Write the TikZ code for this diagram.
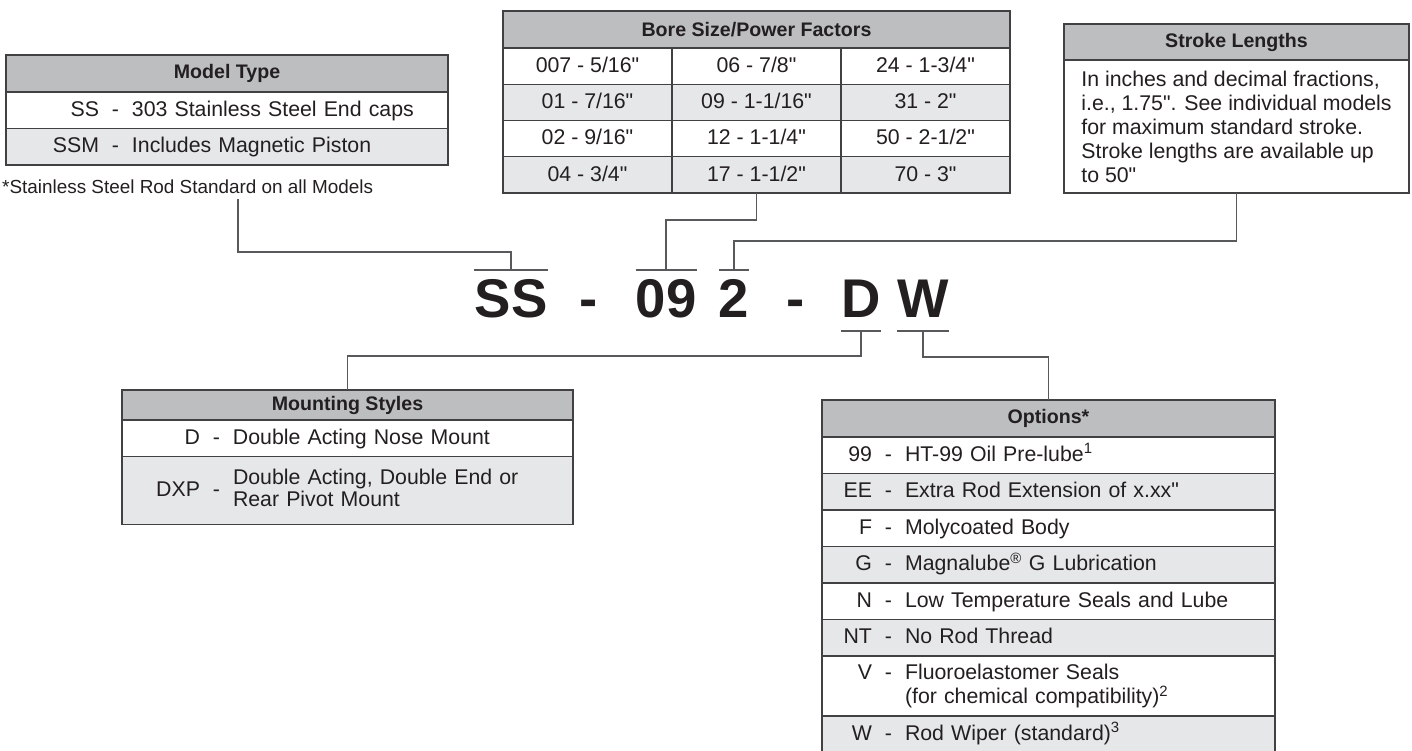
\documentclass[tikz,border=0pt]{standalone}
\usepackage{fontspec}
\setmainfont{Liberation Sans}[Ligatures=TeXOff]
\usetikzlibrary{positioning}
\definecolor{hdrg}{HTML}{BCBEC0}
\definecolor{altg}{HTML}{E6E7E8}
\definecolor{bord}{HTML}{414042}
\definecolor{conc}{HTML}{58595B}
\definecolor{ink}{HTML}{231F20}
\newcommand{\bodyfs}{\fontsize{21.3}{24}\selectfont}
\newcommand{\hdfs}{\fontsize{19.6}{22}\selectfont}
\newcommand{\fnfs}{\fontsize{18.9}{22}\selectfont}
\newcommand{\codefs}{\fontsize{54.5}{60}\selectfont}
\newcommand{\opt}[3]{\makebox[#1][r]{#2}\makebox[33pt]{-}#3}
\renewcommand{\arraystretch}{0.92}
\tikzset{
  tb/.style={draw=bord,line width=1.3pt,inner sep=0pt,outer sep=0pt,text=ink},
  hdr/.style={tb,fill=hdrg,font=\hdfs\bfseries,minimum height=37pt,align=center},
  rw/.style={tb,fill=white,font=\bodyfs,minimum height=36.5pt,align=left,text height=15.3pt,text depth=3pt},
  rwg/.style={rw,fill=altg},
  cell/.style={tb,fill=white,font=\bodyfs,minimum width=169pt,minimum height=36.25pt,text height=15.3pt,text depth=3pt},
  cellg/.style={cell,fill=altg},
  code/.style={inner sep=0pt,anchor=base,font=\codefs\bfseries,text=ink,text height=47pt,text depth=14pt},
  bar/.style={draw=conc,line width=1.8pt},
  conn/.style={draw=conc,line width=1.6pt},
}

\begin{document}
\begin{tikzpicture}[x=1pt,y=-1pt,node distance=0pt]
\useasboundingbox (0,0) rectangle (1412,751);
% model type
\node[hdr,minimum width=442pt] (mt) at (227,73.5) {Model Type};
\node[rw,text width=442pt,below=of mt] (mt1) {\opt{93pt}{SS}{303 Stainless Steel End caps}};
\node[rwg,text width=442pt,below=of mt1] (mt2) {\opt{93pt}{SSM}{Includes Magnetic Piston}};
\node[font=\fnfs,text=ink,anchor=west,inner sep=0pt] (fn) at (2,187) {*Stainless Steel Rod Standard on all Models};
% bore size
\node[hdr,minimum width=507pt] (bs) at (756.5,29.5) {Bore Size/Power Factors};
\node[cell,anchor=north west] (b11) at (bs.south west) {007 - 5/16"};
\node[cell,right=of b11] (b12) {06 - 7/8"};
\node[cell,right=of b12] (b13) {24 - 1-3/4"};
\node[cellg,below=of b11] (b21) {01 - 7/16"};
\node[cellg,right=of b21] (b22) {09 - 1-1/16"};
\node[cellg,right=of b22] (b23) {31 - 2"};
\node[cell,below=of b21] (b31) {02 - 9/16"};
\node[cell,right=of b31] (b32) {12 - 1-1/4"};
\node[cell,right=of b32] (b33) {50 - 2-1/2"};
\node[cellg,below=of b31] (b41) {04 - 3/4"};
\node[cellg,right=of b41] (b42) {17 - 1-1/2"};
\node[cellg,right=of b42] (b43) {70 - 3"};
% stroke lengths
\node[hdr,minimum width=345pt,minimum height=36pt] (sl) at (1236.5,42) {Stroke Lengths};
\node[tb,fill=white,font=\bodyfs,below=of sl,minimum width=345pt,minimum height=133pt,align=left] (slb)
  {In inches and decimal fractions,\\i.e., 1.75". See individual models\\for maximum standard stroke.\\Stroke lengths are available up\\to 50"};
% part number
\node[code] (ss) at (511,317) {SS};
\node[code] (d1) at (589,317) {-};
\node[code] (n09) at (666,317) {09};
\node[code] (n2) at (734,317) {2};
\node[code] (d2) at (796,317) {-};
\node[code] (nd) at (861,317) {D};
\node[code] (nw) at (923,317) {W};
\draw[bar] (ss.north west) -- (ss.north east);
\draw[bar] (n09.north west) -- (n09.north east);
\draw[bar] (n2.north west) -- (n2.north east);
\draw[bar] (nd.south west) -- (nd.south east);
\draw[bar] (nw.south west) -- (nw.south east);
% mounting styles
\node[hdr,minimum width=451pt,minimum height=30pt] (ms) at (347.5,405) {Mounting Styles};
\node[rw,text width=451pt,below=of ms] (ms1) {\opt{78pt}{D}{Double Acting Nose Mount}};
\node[rwg,text width=451pt,minimum height=68pt,below=of ms1] (ms2)
  {\opt{78pt}{DXP}{\begin{tabular}[c]{@{}l@{}}Double Acting, Double End or\\Rear Pivot Mount\end{tabular}}};
% options
\node[hdr,minimum width=453pt] (op) at (1048.5,418.5) {Options*};
\node[rw,text width=453pt,below=of op] (o1) {\opt{50pt}{99}{HT-99 Oil Pre-lube\textsuperscript{1}}};
\node[rwg,text width=453pt,below=of o1] (o2) {\opt{50pt}{EE}{Extra Rod Extension of x.xx"}};
\node[rw,text width=453pt,below=of o2] (o3) {\opt{50pt}{F}{Molycoated Body}};
\node[rwg,text width=453pt,below=of o3] (o4) {\opt{50pt}{G}{Magnalube\textsuperscript{\textregistered} G Lubrication}};
\node[rw,text width=453pt,below=of o4] (o5) {\opt{50pt}{N}{Low Temperature Seals and Lube}};
\node[rwg,text width=453pt,below=of o5] (o6) {\opt{50pt}{NT}{No Rod Thread}};
\node[rw,text width=453pt,minimum height=60pt,text depth=29pt,below=of o6] (o7)
  {\opt{50pt}{V}{\begin{tabular}[t]{@{}l@{}}Fluoroelastomer Seals\\(for chemical compatibility)\textsuperscript{2}\end{tabular}}};
\node[rwg,text width=453pt,below=of o7] (o8) {\opt{50pt}{W}{Rod Wiper (standard)\textsuperscript{3}}};
% connectors
\draw[conn] ([xshift=236pt,yshift=-5pt]fn.south west) |- ([yshift=18pt]ss.north) -- (ss.north);
\draw[conn] (b42.south) |- ([yshift=50pt]n09.north) -- (n09.north);
\draw[conn] (slb.south) |- ([yshift=29pt]n2.north) -- (n2.north);
\draw[conn] (nd.south) -- ([yshift=-25pt]nd.south) -| (ms.north);
\draw[conn] (nw.south) -- ([yshift=-26pt]nw.south) -| (op.north);
\end{tikzpicture}
\end{document}
